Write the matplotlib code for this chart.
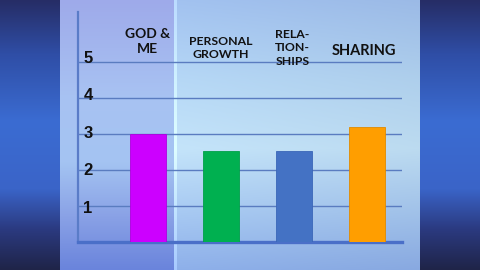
import numpy as np
import matplotlib
matplotlib.use("Agg")
import matplotlib.pyplot as plt
from matplotlib.colors import to_rgb

# ---- data ----
categories = ["GOD &\nME", "PERSONAL\nGROWTH", "RELA-\nTION-\nSHIPS", "SHARING"]
values = [3.0, 2.53, 2.53, 3.19]
bar_colors = ["#cc00ff", "#00b050", "#4472c4", "#ff9e00"]
y_ticks = [1, 2, 3, 4, 5]

W, H = 480, 270
fig = plt.figure(figsize=(W / 100, H / 100), dpi=100)

# ---- background (photo-like gradient) ----
yy = np.linspace(0, 1, H)
def vprofile(stops, cols):
    rgb = np.array([to_rgb(c) for c in cols])
    return np.stack([np.interp(yy, stops, rgb[:, k]) for k in range(3)], axis=1)

side = vprofile([0, 0.2, 0.45, 0.7, 0.85, 1.0],
                ["#262d66", "#2f4ea6", "#3b6cd2", "#3a64c8", "#2b3a80", "#1f2448"])
center = vprofile([0, 0.3, 0.55, 0.8, 1.0],
                  ["#a2c2f0", "#b6d8f6", "#c4e4fa", "#a6c8f2", "#8eb0ea"])
strip = vprofile([0, 0.35, 0.6, 0.8, 1.0],
                 ["#9eaaea", "#a8c2f2", "#a4c4f2", "#8aa2e6", "#6a84dc"])
img = np.zeros((H, W, 3))
xs = np.arange(W)
for x in xs:
    if x < 60 or x >= 420:
        img[:, x] = side
    elif x < 174:
        img[:, x] = strip
    elif x < 177:
        img[:, x] = np.clip(center + 0.1, 0, 1)
    else:
        t = (x - 177) / 243.0
        img[:, x] = center * (1 - 0.04 * t)
bg = fig.add_axes([0, 0, 1, 1])
bg.imshow(img, aspect="auto", extent=[0, 1, 0, 1], interpolation="bilinear")
bg.set_axis_off()

# ---- chart axes ----
ax = fig.add_axes([78 / W, 1 - 242 / H, (402 - 78) / W, (242 - 12) / H])
ax.patch.set_alpha(0)
x = np.arange(len(categories))
ax.set_xlim(-0.955, 3.483)
ax.set_ylim(0, 6.39)

for v in y_ticks:
    ax.axhline(v, color="#5a7cc0", lw=1.0, zorder=1)
ax.bar(x, values, width=0.49, color=bar_colors, zorder=3,
       edgecolor=["#b000e0", "#00a048", "#3a66b8", "#e08a00"], linewidth=0.6)

for s in ["top", "right"]:
    ax.spines[s].set_visible(False)
ax.spines["left"].set_color("#5a7cc8")
ax.spines["left"].set_linewidth(1.6)
ax.spines["bottom"].set_color("#4a6fc8")
ax.spines["bottom"].set_linewidth(2.4)
ax.set_xticks([])
ax.set_yticks([])

# y value labels (inside the axes, bold)
for v in y_ticks:
    ax.text(-0.818, v * 1.04 - 0.1, str(v), ha="center", va="center",
            fontsize=12, fontweight="bold", color="#111111",
            family="Liberation Sans", zorder=4)

# category labels above the chart
lab_y = [5.57, 5.39, 5.39, 5.31]
lab_size = [10, 8.8, 8.8, 10.5]
lab_ls = [1.35, 1.28, 1.28, 1.2]
lab_dx = [0, 0, -0.02, -0.04]
for i, (c, yv, fs, ls, dx) in enumerate(zip(categories, lab_y, lab_size, lab_ls, lab_dx)):
    ax.text(i + dx, yv, c, ha="center", va="center", fontsize=fs,
            fontweight="bold", family="Lato", color="#111111",
            linespacing=ls, zorder=4)

fig.savefig("out.png", dpi=100)
